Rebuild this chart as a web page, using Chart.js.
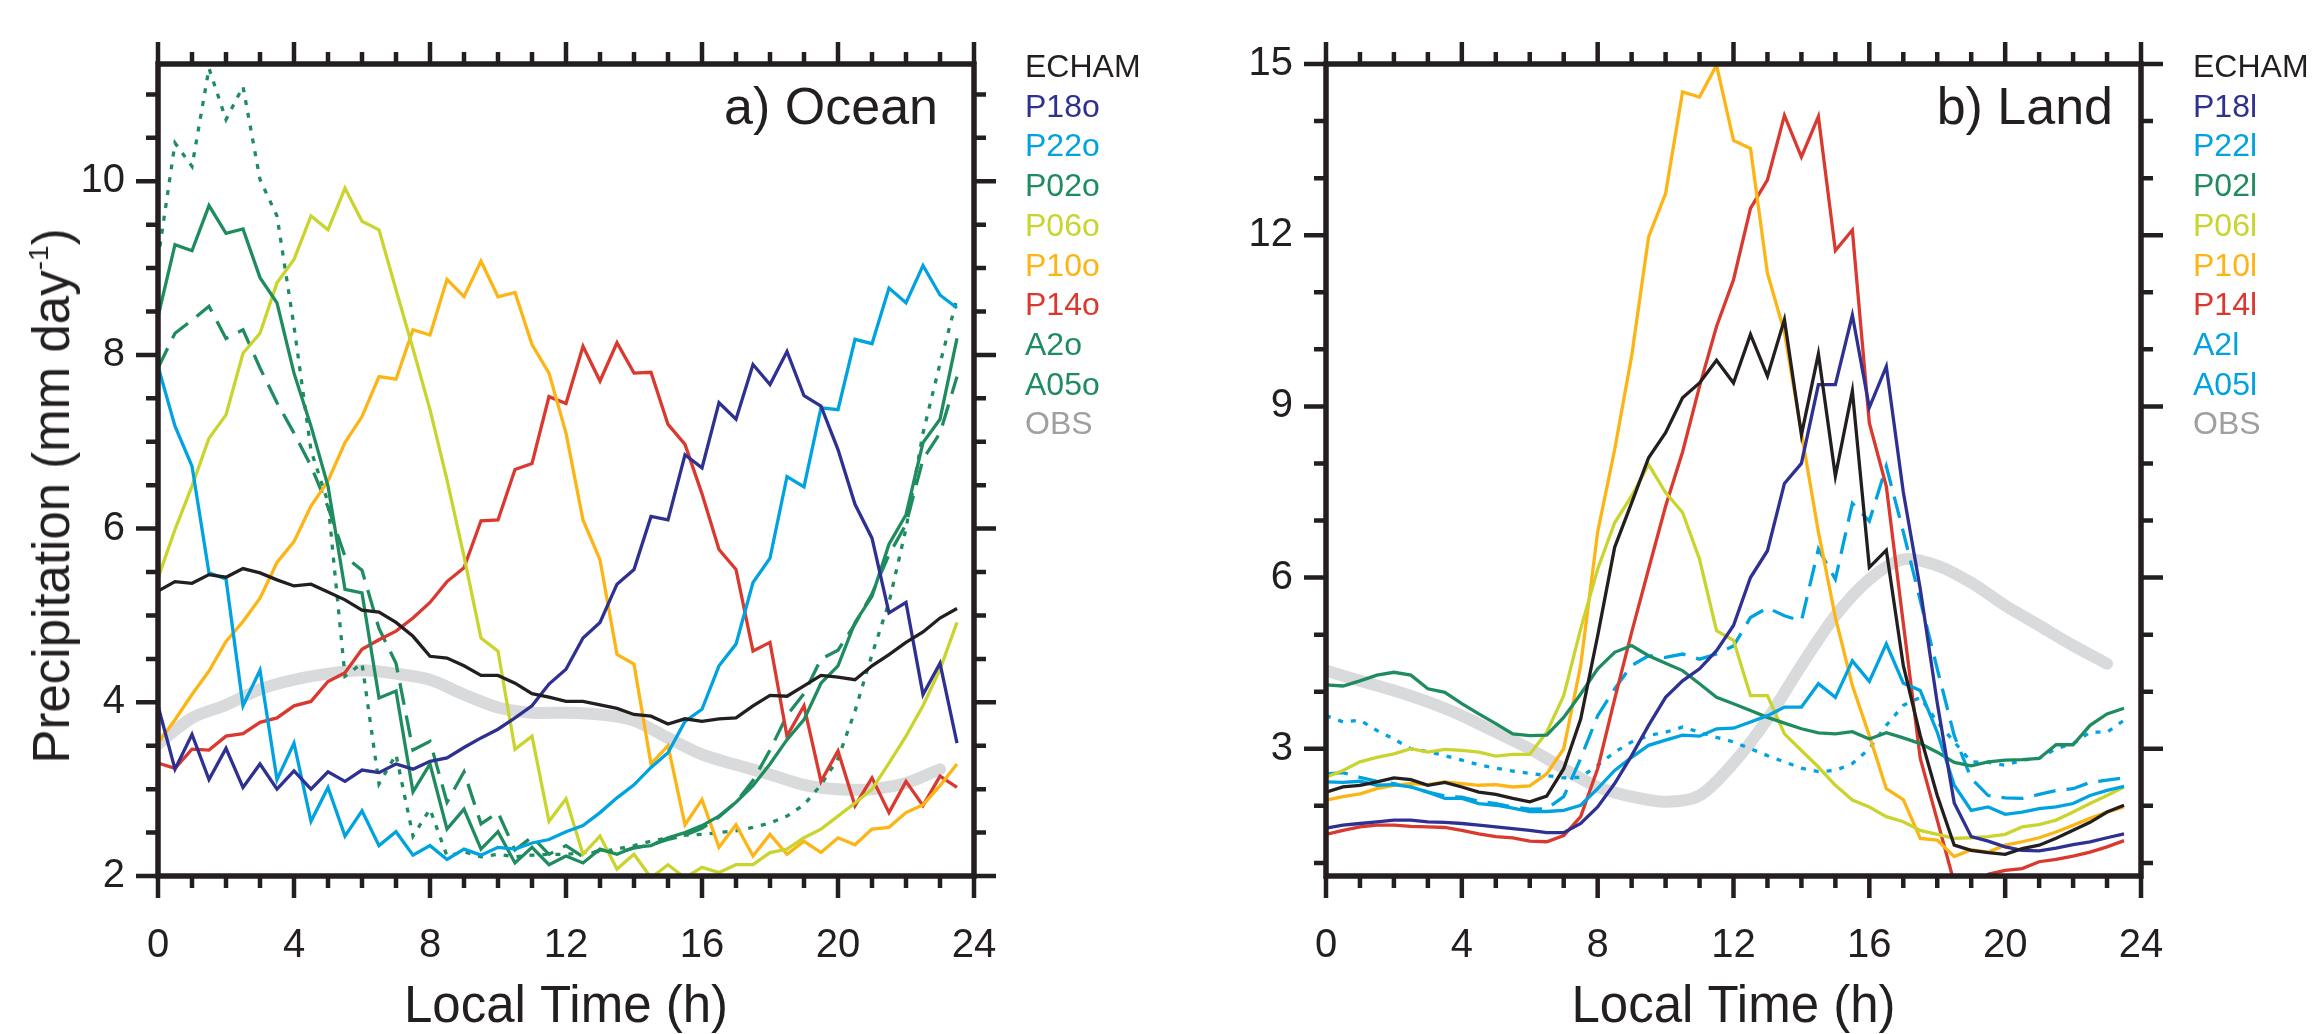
<!DOCTYPE html>
<html lang="en">
<head>
  <meta charset="UTF-8" />
  <title>Diurnal cycle of precipitation | Ocean and Land</title>
  <script src="https://cdn.jsdelivr.net/npm/chart.js"></script>
  <style>
    body {
      margin: 0;
      width: 2314px;
      height: 1034px;
      overflow: hidden;
      position: relative;
      background: #fff;
      color: #231f20;
      font-family: 'Liberation Sans', Arial, Helvetica, sans-serif;
    }
    canvas { position: absolute; top: 0; }
    #oceanChart { left: 0; }
    #landChart { left: 1168px; }
    .legend {
      position: absolute;
      top: 47px;
      font-size: 32px;
      line-height: 39.7px;
      white-space: nowrap;
    }
    .panel-label {
      position: absolute;
      top: 80px;
      width: 300px;
      text-align: right;
      font-size: 52px;
      line-height: 52px;
    }
    .ytitle {
      position: absolute;
      left: 45px;
      top: 496px;
      font-size: 51px;
      line-height: 51px;
      white-space: nowrap;
      transform: translate(-50%, -50%) rotate(-90deg);
    }
    .ytitle sup { font-size: 0.55em; vertical-align: 0.75em; }
  </style>
</head>
<body>
  <canvas id="oceanChart" width="1168" height="1034"></canvas>
  <canvas id="landChart" width="1146" height="1034"></canvas>

  <div class="ytitle">Precipitation (mm day<sup>-1</sup>)</div>
  <div class="panel-label" style="left: 638px;">a) Ocean</div>
  <div class="panel-label" style="left: 1813px;">b) Land</div>
  <div class="legend" id="oceanLegend" style="left: 1025px;"></div>
  <div class="legend" id="landLegend" style="left: 2193px;"></div>

  <script>
    // half-hourly model output, hourly observations
    const HOURS = [0, 0.5, 1, 1.5, 2, 2.5, 3, 3.5, 4, 4.5, 5, 5.5, 6, 6.5, 7, 7.5, 8, 8.5, 9, 9.5,
      10, 10.5, 11, 11.5, 12, 12.5, 13, 13.5, 14, 14.5, 15, 15.5, 16, 16.5, 17, 17.5, 18, 18.5, 19, 19.5,
      20, 20.5, 21, 21.5, 22, 22.5, 23, 23.5];
    const OBS_HOURS = [0, 1, 2, 3, 4, 5, 6, 7, 8, 9, 10, 11, 12, 13, 14, 15, 16, 17, 18, 19, 20, 21, 22, 23];

    const X_TICKS = [0, 4, 8, 12, 16, 20, 24];
    const Y_TICKS_OCEAN = [2, 4, 6, 8, 10];
    const Y_TICKS_LAND = [3, 6, 9, 12, 15];

    const NAMES_OCEAN = ['ECHAM', 'P18o', 'P22o', 'P02o', 'P06o', 'P10o', 'P14o', 'A2o', 'A05o', 'OBS'];
    const NAMES_LAND = ['ECHAM', 'P18l', 'P22l', 'P02l', 'P06l', 'P10l', 'P14l', 'A2l', 'A05l', 'OBS'];

    // ---- ocean (mm/day) ----
    const echamOcean = [5.28, 5.39, 5.37, 5.47, 5.44, 5.54, 5.49, 5.41, 5.34, 5.36, 5.27, 5.18, 5.06, 5.04, 4.92, 4.76,
      4.53, 4.51, 4.42, 4.31, 4.31, 4.22, 4.10, 4.06, 4.01, 4.01, 3.97, 3.93, 3.86, 3.84, 3.75, 3.81,
      3.78, 3.81, 3.82, 3.96, 4.08, 4.07, 4.19, 4.31, 4.29, 4.26, 4.42, 4.55, 4.69, 4.81, 4.97, 5.08];
    const p18o = [3.96, 3.23, 3.63, 3.11, 3.47, 3.02, 3.29, 3.00, 3.21, 3.00, 3.20, 3.09, 3.22, 3.19, 3.29, 3.23,
      3.32, 3.36, 3.48, 3.59, 3.69, 3.82, 3.96, 4.21, 4.38, 4.74, 4.92, 5.36, 5.53, 6.14, 6.10, 6.85,
      6.70, 7.45, 7.26, 7.89, 7.66, 8.04, 7.53, 7.41, 6.91, 6.28, 5.89, 5.03, 5.15, 4.09, 4.45, 3.53];
    const p22o = [7.87, 7.18, 6.72, 5.49, 5.42, 3.96, 4.37, 3.11, 3.53, 2.63, 3.02, 2.46, 2.75, 2.35, 2.51, 2.24,
      2.35, 2.19, 2.31, 2.24, 2.33, 2.31, 2.38, 2.42, 2.51, 2.58, 2.73, 2.90, 3.05, 3.25, 3.42, 3.78,
      3.92, 4.42, 4.67, 5.38, 5.66, 6.60, 6.48, 7.39, 7.37, 8.18, 8.13, 8.77, 8.60, 9.03, 8.69, 8.54];
    const p02o = [8.44, 9.27, 9.20, 9.72, 9.40, 9.45, 8.89, 8.60, 7.79, 7.18, 6.49, 5.30, 5.26, 4.05, 4.13, 2.97,
      3.29, 2.54, 2.77, 2.31, 2.51, 2.15, 2.33, 2.13, 2.23, 2.15, 2.31, 2.25, 2.33, 2.35, 2.44, 2.50,
      2.58, 2.69, 2.85, 3.04, 3.29, 3.57, 3.80, 4.22, 4.42, 4.92, 5.22, 5.82, 6.16, 6.99, 7.26, 8.19];
    const p06o = [5.43, 5.99, 6.49, 7.04, 7.31, 8.02, 8.25, 8.83, 9.10, 9.60, 9.44, 9.92, 9.54, 9.44, 8.75, 8.07,
      7.37, 6.56, 5.68, 4.74, 4.59, 3.46, 3.61, 2.63, 2.89, 2.25, 2.46, 2.08, 2.25, 1.98, 2.13, 1.98,
      2.10, 2.04, 2.13, 2.13, 2.27, 2.31, 2.44, 2.54, 2.69, 2.84, 3.00, 3.30, 3.61, 3.96, 4.38, 4.92];
    const p10o = [3.53, 3.80, 4.09, 4.36, 4.70, 4.93, 5.20, 5.61, 5.85, 6.26, 6.55, 6.99, 7.29, 7.75, 7.72, 8.29,
      8.23, 8.87, 8.67, 9.08, 8.67, 8.72, 8.12, 7.79, 7.10, 6.10, 5.64, 4.55, 4.44, 3.29, 3.50, 2.59,
      2.88, 2.33, 2.59, 2.23, 2.48, 2.25, 2.40, 2.27, 2.44, 2.36, 2.54, 2.56, 2.73, 2.82, 3.04, 3.29];
    const p14o = [3.30, 3.24, 3.46, 3.45, 3.61, 3.64, 3.77, 3.82, 3.96, 4.01, 4.24, 4.34, 4.61, 4.72, 4.82, 4.97,
      5.15, 5.39, 5.55, 6.09, 6.10, 6.68, 6.75, 7.52, 7.44, 8.10, 7.70, 8.14, 7.79, 7.80, 7.20, 6.97,
      6.40, 5.76, 5.53, 4.59, 4.69, 3.61, 3.96, 3.09, 3.44, 2.81, 3.13, 2.73, 3.09, 2.81, 3.15, 3.02];
    const a2o = [7.85, 8.25, 8.40, 8.56, 8.19, 8.29, 7.85, 7.45, 7.10, 6.72, 6.25, 5.68, 5.52, 4.85, 4.45, 3.45,
      3.55, 2.85, 3.20, 2.60, 2.73, 2.30, 2.45, 2.25, 2.35, 2.22, 2.30, 2.27, 2.32, 2.36, 2.42, 2.47,
      2.55, 2.68, 2.85, 3.10, 3.45, 3.85, 4.10, 4.50, 4.60, 4.90, 5.25, 5.70, 6.05, 6.80, 7.10, 7.75];
    const a05o = [9.10, 10.44, 10.17, 11.30, 10.71, 11.09, 10.02, 9.60, 8.33, 6.90, 6.30, 4.30, 4.45, 3.06, 3.40, 2.46,
      2.77, 2.23, 2.28, 2.22, 2.25, 2.22, 2.24, 2.25, 2.25, 2.27, 2.28, 2.31, 2.35, 2.40, 2.44, 2.47,
      2.48, 2.50, 2.52, 2.56, 2.61, 2.69, 2.82, 3.05, 3.35, 3.90, 4.55, 5.15, 6.00, 7.10, 7.90, 8.65];
    const obsOcean = [3.52, 3.82, 3.97, 4.15, 4.26, 4.33, 4.37, 4.33, 4.26, 4.09, 3.94, 3.88,
      3.88, 3.86, 3.79, 3.59, 3.40, 3.28, 3.17, 3.05, 3.00, 3.00, 3.07, 3.23];

    // ---- land (mm/day) ----
    const echamLand = [2.24, 2.33, 2.36, 2.42, 2.49, 2.46, 2.36, 2.41, 2.33, 2.24, 2.20, 2.13, 2.07, 2.17, 2.65, 3.52,
      4.98, 6.53, 7.31, 8.10, 8.54, 9.15, 9.41, 9.81, 9.41, 10.26, 9.53, 10.52, 8.50, 9.92, 7.78, 9.27,
      6.18, 6.48, 4.46, 3.23, 2.18, 1.31, 1.22, 1.18, 1.15, 1.25, 1.31, 1.43, 1.57, 1.71, 1.89, 2.01];
    const p18l = [1.61, 1.66, 1.69, 1.72, 1.75, 1.75, 1.72, 1.71, 1.69, 1.66, 1.63, 1.60, 1.57, 1.53, 1.53, 1.69,
      1.98, 2.39, 2.88, 3.41, 3.90, 4.19, 4.40, 4.72, 5.16, 6.00, 6.47, 7.65, 8.00, 9.38, 9.38, 10.60,
      8.98, 9.70, 7.50, 5.80, 3.80, 2.05, 1.46, 1.38, 1.28, 1.22, 1.21, 1.26, 1.32, 1.37, 1.44, 1.51];
    const p22l = [2.42, 2.41, 2.43, 2.36, 2.37, 2.33, 2.24, 2.13, 2.13, 2.04, 2.01, 1.96, 1.90, 1.90, 1.92, 2.01,
      2.30, 2.62, 2.85, 3.06, 3.15, 3.24, 3.22, 3.35, 3.36, 3.47, 3.58, 3.73, 3.73, 4.14, 3.90, 4.54,
      4.18, 4.84, 4.15, 4.02, 3.29, 2.36, 1.92, 1.98, 1.85, 1.89, 1.95, 1.98, 2.04, 2.18, 2.27, 2.34];
    const p02l = [4.12, 4.10, 4.19, 4.29, 4.34, 4.29, 4.05, 3.99, 3.79, 3.61, 3.44, 3.26, 3.23, 3.24, 3.55, 3.96,
      4.40, 4.69, 4.81, 4.63, 4.50, 4.37, 4.14, 3.90, 3.79, 3.67, 3.55, 3.45, 3.35, 3.28, 3.26, 3.30,
      3.17, 3.28, 3.19, 3.09, 2.94, 2.76, 2.70, 2.77, 2.80, 2.81, 2.83, 3.07, 3.07, 3.41, 3.61, 3.71];
    const p06l = [2.50, 2.62, 2.77, 2.85, 2.91, 3.00, 2.94, 2.99, 2.97, 2.94, 2.87, 2.90, 2.90, 3.29, 3.93, 5.10,
      6.15, 6.96, 7.43, 7.98, 7.49, 7.14, 6.32, 5.07, 4.90, 3.93, 3.93, 3.26, 2.97, 2.68, 2.36, 2.10,
      1.98, 1.81, 1.72, 1.57, 1.50, 1.43, 1.44, 1.46, 1.50, 1.63, 1.67, 1.75, 1.89, 2.04, 2.18, 2.33];
    const p10l = [2.10, 2.16, 2.21, 2.30, 2.36, 2.39, 2.37, 2.42, 2.39, 2.36, 2.37, 2.33, 2.35, 2.56, 3.00, 4.46,
      6.80, 8.24, 9.88, 11.97, 12.73, 14.51, 14.42, 14.98, 13.66, 13.52, 11.33, 10.30, 8.54, 6.80, 5.30, 4.11,
      3.23, 2.30, 2.11, 1.43, 1.40, 1.11, 1.23, 1.19, 1.31, 1.37, 1.44, 1.54, 1.66, 1.78, 1.89, 1.98];
    const p14l = [1.50, 1.57, 1.63, 1.66, 1.66, 1.64, 1.63, 1.62, 1.57, 1.51, 1.46, 1.44, 1.38, 1.37, 1.48, 1.81,
      2.65, 3.87, 5.04, 6.15, 7.25, 8.20, 9.35, 10.40, 11.22, 12.47, 12.97, 14.10, 13.37, 14.08, 11.73, 12.09,
      8.71, 7.60, 5.20, 2.83, 1.75, 0.65, 0.45, 0.80, 0.87, 0.90, 1.02, 1.06, 1.12, 1.19, 1.28, 1.39];
    const a2l = [2.56, 2.58, 2.50, 2.43, 2.39, 2.33, 2.24, 2.17, 2.15, 2.08, 2.04, 1.98, 1.94, 1.95, 2.16, 2.83,
      3.58, 4.05, 4.46, 4.63, 4.60, 4.66, 4.57, 4.66, 4.80, 5.30, 5.47, 5.33, 5.24, 6.50, 5.97, 7.30,
      6.99, 7.95, 6.80, 5.60, 4.40, 3.23, 2.48, 2.18, 2.14, 2.13, 2.20, 2.27, 2.30, 2.41, 2.45, 2.49];
    const a05l = [3.58, 3.47, 3.50, 3.32, 3.17, 3.00, 2.95, 2.88, 2.80, 2.72, 2.66, 2.61, 2.57, 2.53, 2.49, 2.50,
      2.71, 2.94, 3.12, 3.23, 3.29, 3.38, 3.29, 3.20, 3.12, 3.00, 2.88, 2.77, 2.66, 2.60, 2.62, 2.74,
      3.00, 3.41, 3.76, 3.90, 3.47, 3.12, 2.77, 2.76, 2.71, 2.80, 2.83, 3.00, 3.09, 3.29, 3.29, 3.50];
    const obsLand = [4.37, 4.19, 4.02, 3.82, 3.58, 3.29, 3.00, 2.65, 2.33, 2.16, 2.07, 2.18,
      2.75, 3.52, 4.46, 5.33, 5.97, 6.32, 6.21, 5.91, 5.51, 5.16, 4.81, 4.49];

    const INK = '#231f20';
    const C_ECHAM = '#231f20';
    const C_P18 = '#2e3192';
    const C_P22 = '#00a3e0';
    const C_P02 = '#1f8c60';
    const C_P06 = '#c9d52e';
    const C_P10 = '#fdb515';
    const C_P14 = '#d9392f';
    const C_OBS = '#d9dadb';
    const C_OBS_TEXT = '#9fa0a0';

    const DASHED = [22, 11];
    const DOTTED = [5, 8];

    Chart.defaults.font.family = "'Liberation Sans', Arial, Helvetica, sans-serif";
    Chart.defaults.color = INK;

    // frame and outward tick marks on all four sides
    const frameTicks = {
      id: 'frameTicks',
      afterDatasetsDraw(chart, args, opts) {
        const { ctx, chartArea: a, scales: { x, y } } = chart;
        const isMajor = (v, step) => Math.abs(v / step - Math.round(v / step)) < 1e-6;
        ctx.save();
        ctx.strokeStyle = INK;
        ctx.lineWidth = 4.5;
        ctx.beginPath();
        for (let k = 0; x.min + k * opts.xMinor <= x.max + 1e-6; k++) {
          const v = x.min + k * opts.xMinor;
          const len = isMajor(v, opts.xMajor) ? 22 : 12;
          const px = x.getPixelForValue(v);
          ctx.moveTo(px, a.top); ctx.lineTo(px, a.top - len);
          ctx.moveTo(px, a.bottom); ctx.lineTo(px, a.bottom + len);
        }
        const first = Math.ceil(y.min / opts.yMinor - 1e-6);
        for (let k = first; k * opts.yMinor <= y.max + 1e-6; k++) {
          const v = k * opts.yMinor;
          const len = isMajor(v, opts.yMajor) ? 22 : 12;
          const py = y.getPixelForValue(v);
          ctx.moveTo(a.left, py); ctx.lineTo(a.left - len, py);
          ctx.moveTo(a.right, py); ctx.lineTo(a.right + len, py);
        }
        ctx.stroke();
        ctx.lineWidth = 5.5;
        ctx.strokeRect(a.left, a.top, a.right - a.left, a.bottom - a.top);
        ctx.restore();
      }
    };

    function line(label, values, color, dash) {
      return {
        label,
        data: HOURS.map((h, i) => ({ x: h, y: values[i] })),
        borderColor: color,
        borderWidth: 3.3,
        borderDash: dash || [],
        borderJoinStyle: 'miter',
        pointRadius: 0,
        fill: false,
        tension: 0
      };
    }

    function obsLine(values) {
      return {
        label: 'OBS',
        data: OBS_HOURS.map((h, i) => ({ x: h, y: values[i] })),
        borderColor: C_OBS,
        borderWidth: 12,
        borderCapStyle: 'round',
        borderJoinStyle: 'round',
        pointRadius: 0,
        fill: false,
        tension: 0.3
      };
    }

    function buildChart(id, datasets, cfg) {
      return new Chart(document.getElementById(id), {
        type: 'line',
        data: { datasets },
        plugins: [frameTicks],
        options: {
          responsive: false,
          animation: false,
          events: [],
          layout: { padding: { top: 64, right: cfg.padRight, left: 0, bottom: 0 } },
          plugins: {
            legend: { display: false },
            tooltip: { enabled: false },
            frameTicks: { xMinor: 1, xMajor: 4, yMinor: cfg.yMinor, yMajor: cfg.yMajor }
          },
          scales: {
            x: {
              type: 'linear',
              min: 0,
              max: 24,
              afterBuildTicks: s => { s.ticks = X_TICKS.map(v => ({ value: v })); },
              afterFit: s => { s.height = 158; },
              grid: { display: false, drawTicks: false },
              border: { display: false },
              ticks: { font: { size: 40 }, color: INK, padding: 46, maxRotation: 0, autoSkip: false },
              title: {
                display: true,
                text: 'Local Time (h)',
                color: INK,
                font: { size: 51, lineHeight: 1 },
                padding: { top: 0, bottom: 1 }
              }
            },
            y: {
              type: 'linear',
              min: cfg.yMin,
              max: cfg.yMax,
              afterBuildTicks: s => { s.ticks = cfg.yTicks.map(v => ({ value: v })); },
              afterFit: s => { s.width = 158; },
              grid: { display: false, drawTicks: false },
              border: { display: false },
              ticks: { font: { size: 40 }, color: INK, padding: 33 }
            }
          }
        }
      });
    }

    function buildLegend(id, names, colors) {
      const box = document.getElementById(id);
      names.forEach((n, i) => {
        const row = document.createElement('div');
        row.textContent = n;
        row.style.color = colors[i];
        box.appendChild(row);
      });
    }

    const oceanColors = [C_ECHAM, C_P18, C_P22, C_P02, C_P06, C_P10, C_P14, C_P02, C_P02];
    const landColors = [C_ECHAM, C_P18, C_P22, C_P02, C_P06, C_P10, C_P14, C_P22, C_P22];

    buildChart('oceanChart', [
      line(NAMES_OCEAN[0], echamOcean, oceanColors[0]),
      line(NAMES_OCEAN[1], p18o, oceanColors[1]),
      line(NAMES_OCEAN[2], p22o, oceanColors[2]),
      line(NAMES_OCEAN[3], p02o, oceanColors[3]),
      line(NAMES_OCEAN[4], p06o, oceanColors[4]),
      line(NAMES_OCEAN[5], p10o, oceanColors[5]),
      line(NAMES_OCEAN[6], p14o, oceanColors[6]),
      line(NAMES_OCEAN[7], a2o, oceanColors[7], DASHED),
      line(NAMES_OCEAN[8], a05o, oceanColors[8], DOTTED),
      obsLine(obsOcean)
    ], { yMin: 2, yMax: 11.35, yTicks: Y_TICKS_OCEAN, yMinor: 0.5, yMajor: 2, padRight: 194 });

    buildChart('landChart', [
      line(NAMES_LAND[0], echamLand, landColors[0]),
      line(NAMES_LAND[1], p18l, landColors[1]),
      line(NAMES_LAND[2], p22l, landColors[2]),
      line(NAMES_LAND[3], p02l, landColors[3]),
      line(NAMES_LAND[4], p06l, landColors[4]),
      line(NAMES_LAND[5], p10l, landColors[5]),
      line(NAMES_LAND[6], p14l, landColors[6]),
      line(NAMES_LAND[7], a2l, landColors[7], DASHED),
      line(NAMES_LAND[8], a05l, landColors[8], DOTTED),
      obsLine(obsLand)
    ], { yMin: 0.77, yMax: 15, yTicks: Y_TICKS_LAND, yMinor: 1, yMajor: 3, padRight: 173 });

    buildLegend('oceanLegend', NAMES_OCEAN, oceanColors.concat([C_OBS_TEXT]));
    buildLegend('landLegend', NAMES_LAND, landColors.concat([C_OBS_TEXT]));
  </script>
</body>
</html>
